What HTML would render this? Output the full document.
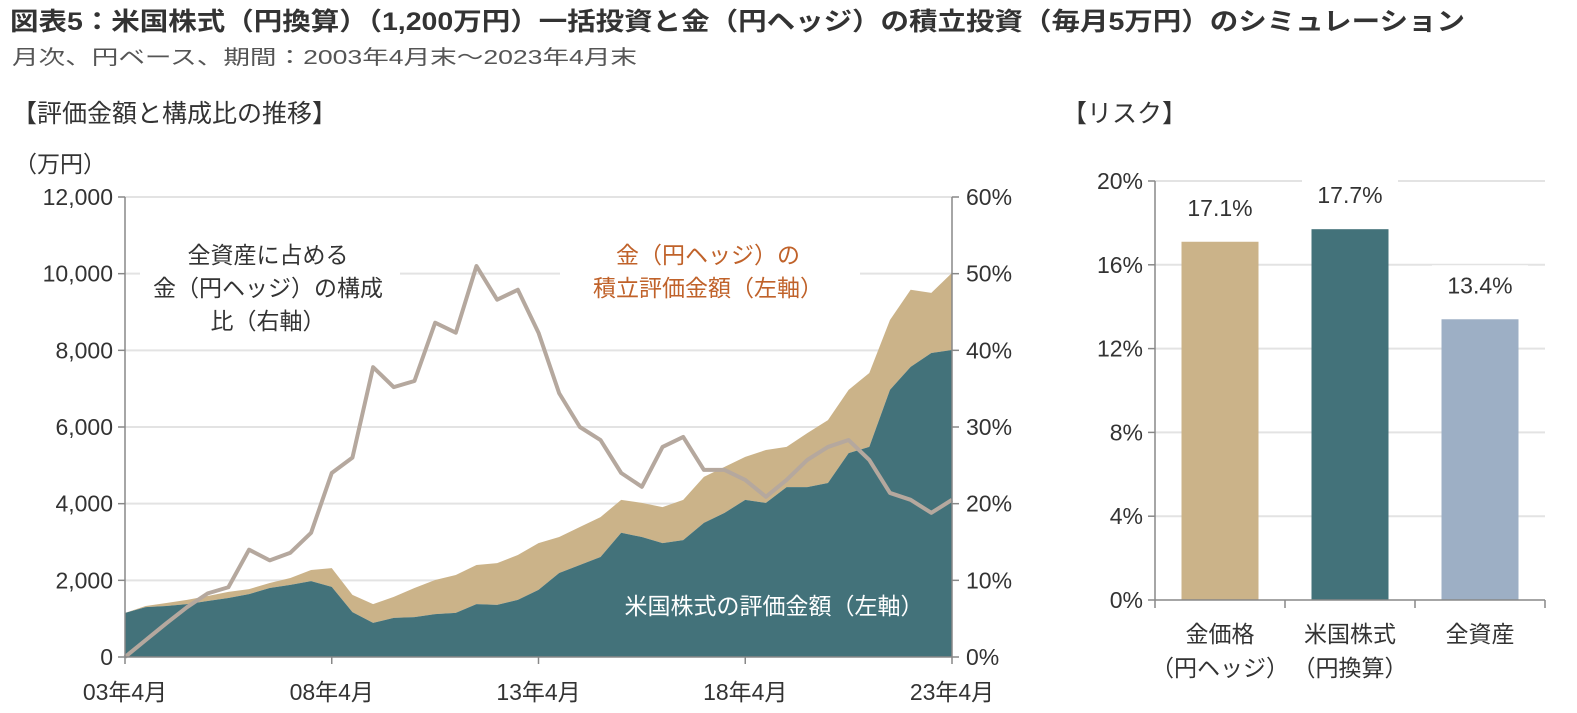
<!DOCTYPE html>
<html><head><meta charset="utf-8">
<style>
body{margin:0;background:#fff;width:1577px;height:713px;overflow:hidden;font-family:"Liberation Sans","Noto Sans CJK JP",sans-serif;}
svg{position:absolute;left:0;top:0}
text{font-family:"Liberation Sans","Noto Sans CJK JP",sans-serif;}
</style></head>
<body>
<svg id="chart" width="1577" height="713">
<text x="10" y="30" font-size="25" font-weight="bold" fill="#333" textLength="1455" lengthAdjust="spacingAndGlyphs">図表5：米国株式（円換算）（1,200万円）一括投資と金（円ヘッジ）の積立投資（毎月5万円）のシミュレーション</text>
<text x="12" y="64" font-size="20" fill="#555" textLength="625" lengthAdjust="spacingAndGlyphs">月次、円ベース、期間：2003年4月末～2023年4月末</text>
<text x="12" y="122" font-size="25" fill="#333">【評価金額と構成比の推移】</text>
<text x="1062" y="122" font-size="25" fill="#333">【リスク】</text>
<text x="14" y="172" font-size="23" fill="#333">（万円）</text>
<g id="left"></g>
<g id="right"></g>
</svg>
<script>
// Left chart data (semiannual, 2003/4 .. 2023/4)
const periods = 41;
const usValues = [1150,1300,1330,1380,1460,1540,1640,1800,1880,1980,1830,1170,890,1020,1040,1120,1150,1380,1360,1490,1750,2190,2400,2610,3240,3130,2970,3050,3500,3760,4100,4020,4430,4430,4540,5320,5480,6970,7570,7930,8010];
const goldValues = [0,30,80,110,130,160,130,130,180,290,490,450,490,550,760,890,990,1020,1090,1170,1220,940,990,1040,860,890,940,1050,1200,1200,1120,1380,1050,1410,1640,1650,1930,1820,2010,1570,2010];
const goldShare = [0,2.2,4.4,6.5,8.3,9.1,14,12.6,13.6,16.2,24,26,37.8,35.2,36,43.6,42.3,51,46.6,47.9,42.3,34.4,30,28.3,24,22.2,27.4,28.7,24.4,24.4,23.1,20.9,23.1,25.7,27.4,28.3,25.7,21.4,20.5,18.8,20.5];
const leftTicks = ["0","2,000","4,000","6,000","8,000","10,000","12,000"];
const rightTicks = ["0%","10%","20%","30%","40%","50%","60%"];
const xLabels = ["03年4月","08年4月","13年4月","18年4月","23年4月"];
// Right chart data
const riskCats = [["金価格","（円ヘッジ）"],["米国株式","（円換算）"],["全資産",""]];
const riskValues = [17.1,17.7,13.4];
const riskTicks = ["0%","4%","8%","12%","16%","20%"];
const riskColors = ["#CBB389","#43727A","#9DAFC5"];

const NS="http://www.w3.org/2000/svg";
function mk(tag,attrs,parent,txt){const e=document.createElementNS(NS,tag);for(const k in attrs)e.setAttribute(k,attrs[k]);if(txt!==undefined)e.textContent=txt;parent.appendChild(e);return e;}

// Left axes
const L={x0:125,x1:952,y0:657,y1:197};
const xs=i=>L.x0+(L.x1-L.x0)*i/(periods-1);
const yv=v=>L.y0-(L.y0-L.y1)*v/12000;
const yp=p=>L.y0-(L.y0-L.y1)*p/60;
const gL=document.getElementById('left');
leftTicks.forEach((t,i)=>{
  const y=yv(i*2000);
  if(i>0){const g=mk('line',{x1:L.x0,x2:L.x1,y1:y,y2:y,stroke:'#e3e3e3','stroke-width':2},gL);
  
  }
  const lt=mk('text',{x:L.x0-12,y:y+8,'font-size':23,fill:'#333','text-anchor':'end'},gL,t);
  
  
  const rt=mk('text',{x:L.x1+14,y:y+8,'font-size':23,fill:'#333'},gL,rightTicks[i]);
  
  
  mk('line',{x1:L.x1,x2:L.x1+7,y1:y,y2:y,stroke:'#888','stroke-width':1.5},gL);
  mk('line',{x1:L.x0-7,x2:L.x0,y1:y,y2:y,stroke:'#888','stroke-width':1.5},gL);
});
// stacked areas
let topPts=[],usPts=[];
for(let i=0;i<periods;i++){topPts.push(xs(i)+','+yv(usValues[i]+goldValues[i]));usPts.push(xs(i)+','+yv(usValues[i]));}
const goldArea=mk('polygon',{points:topPts.join(' ')+' '+usPts.slice().reverse().join(' '),fill:'#CBB389'},gL);


const usArea=mk('polygon',{points:usPts.join(' ')+` ${L.x1},${L.y0} ${L.x0},${L.y0}`,fill:'#43727A'},gL);


const lp=goldShare.map((p,i)=>xs(i)+','+yp(p)).join(' ');
const line=mk('polyline',{points:lp,fill:'none',stroke:'#B5A89E','stroke-width':4,'stroke-linejoin':'round'},gL);


// axes lines
mk('line',{x1:L.x0,x2:L.x0,y1:L.y1,y2:L.y0,stroke:'#888','stroke-width':1.5},gL);
mk('line',{x1:L.x1,x2:L.x1,y1:L.y1,y2:L.y0,stroke:'#888','stroke-width':1.5},gL);
mk('line',{x1:L.x0,x2:L.x1,y1:L.y0,y2:L.y0,stroke:'#888','stroke-width':1.5},gL);
xLabels.forEach((t,i)=>{
  const x=xs(i*10);
  mk('line',{x1:x,x2:x,y1:L.y0,y2:L.y0+7,stroke:'#888','stroke-width':1.5},gL);
  const xt=mk('text',{x:x,y:700,'font-size':23,fill:'#333','text-anchor':'middle'},gL,t);
  
  
});
// annotations
mk('rect',{x:140,y:226,width:260,height:112,fill:'#fff'},gL);
[["全資産に占める",263],["金（円ヘッジ）の構成",296],["比（右軸）",329]].forEach(a=>{
  const t=mk('text',{x:268,y:a[1],'font-size':23,fill:'#333','text-anchor':'middle'},gL,a[0]);
  
  
});
mk('rect',{x:560,y:226,width:300,height:74,fill:'#fff'},gL);
[["金（円ヘッジ）の",263],["積立評価金額（左軸）",296]].forEach(a=>{
  const t=mk('text',{x:708,y:a[1],'font-size':23,fill:'#C0622A','text-anchor':'middle'},gL,a[0]);
  
  
});
const ua=mk('text',{x:774,y:614,'font-size':23,fill:'#fff','text-anchor':'middle'},gL,'米国株式の評価金額（左軸）');



// Right chart
const R={x0:1155,x1:1545,y0:600,y1:181};
const ry=v=>R.y0-(R.y0-R.y1)*v/20;
const gR=document.getElementById('right');
riskTicks.forEach((t,i)=>{
  const y=ry(i*4);
  if(i>0){const g=mk('line',{x1:R.x0,x2:R.x1,y1:y,y2:y,stroke:'#e3e3e3','stroke-width':2},gR);
  
  }
  mk('line',{x1:R.x0-7,x2:R.x0,y1:y,y2:y,stroke:'#888','stroke-width':1.5},gR);
  const tt=mk('text',{x:R.x0-12,y:y+8,'font-size':23,fill:'#333','text-anchor':'end'},gR,t);
  
  
});
const cw=(R.x1-R.x0)/riskValues.length, bw=77;
riskValues.forEach((v,i)=>{
  const cx=R.x0+cw*(i+0.5);
  const b=mk('rect',{x:cx-bw/2,y:ry(v),width:bw,height:R.y0-ry(v),fill:riskColors[i]},gR);
  
  
  mk('rect',{x:cx-48,y:ry(v)-54,width:96,height:34,fill:'#fff'},gR);
  const vl=mk('text',{x:cx,y:ry(v)-26,'font-size':23,fill:'#333','text-anchor':'middle'},gR,v.toFixed(1)+'%');
  
  
  const c1=mk('text',{x:cx,y:642,'font-size':23,fill:'#333','text-anchor':'middle'},gR,riskCats[i][0]);
  
  
  if(riskCats[i][1]){const c2=mk('text',{x:cx,y:676,'font-size':23,fill:'#333','text-anchor':'middle'},gR,riskCats[i][1]);
  
  }
  const tx=R.x0+cw*(i+1);
  mk('line',{x1:tx,x2:tx,y1:R.y0,y2:R.y0+8,stroke:'#888','stroke-width':1.5},gR);
});
mk('line',{x1:R.x0,x2:R.x0,y1:R.y1,y2:R.y0+8,stroke:'#888','stroke-width':1.5},gR);
mk('line',{x1:R.x0,x2:R.x1,y1:R.y0,y2:R.y0,stroke:'#888','stroke-width':1.5},gR);
</script>
</body></html>
